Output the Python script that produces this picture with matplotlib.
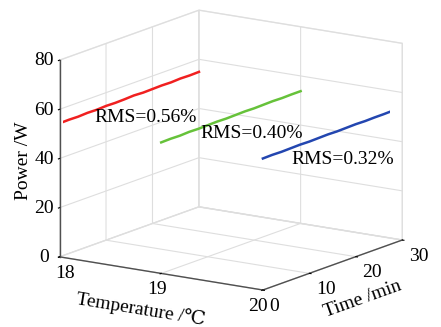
import matplotlib
matplotlib.use("Agg")
import matplotlib.pyplot as plt
import numpy as np

plt.rcParams['font.family'] = ['Liberation Serif', 'DejaVu Serif']

# ── Data ──────────────────────────────────────────────────────────────
time_min = [0, 2, 4, 6, 8, 10, 12, 14, 16, 18, 20, 22, 24, 26, 28, 30]
temps = [18, 19, 20]
power_18 = [54.3, 54.4, 54.3, 54.5, 54.4, 54.6, 54.5, 54.6, 54.8, 54.6,
            54.7, 54.8, 54.7, 54.9, 54.8, 54.9]
power_19 = [53.3, 53.4, 53.3, 53.5, 53.4, 53.5, 53.6, 53.5, 53.6, 53.7,
            53.6, 53.7, 53.8, 53.7, 53.8, 53.8]
power_20 = [53.5, 53.6, 53.5, 53.6, 53.7, 53.6, 53.7, 53.8, 53.7, 53.8,
            53.9, 53.8, 53.9, 53.9, 54.0, 54.0]
rms_labels = ["RMS=0.56%", "RMS=0.40%", "RMS=0.32%"]
colors = ["#f02020", "#66c23a", "#2346b0"]

plt.rcParams['grid.color'] = '#dedede'
plt.rcParams['grid.linewidth'] = 0.8

fig = plt.figure(figsize=(4.41, 3.27), dpi=100)
ax = fig.add_axes([0.0136, 0.0275, 1.0, 1.0], projection='3d')
ax.set_proj_type('ortho')
ax.view_init(elev=14, azim=-56)
ax.set_box_aspect((1.21, 1.23, 1.0), zoom=1.2)

for T, p, c in zip(temps, [power_18, power_19, power_20], colors):
    ax.plot([T] * len(time_min), time_min, p, color=c, linewidth=1.8)

ax.set_xlim(18, 20)
ax.set_ylim(0, 30)
ax.set_zlim(0, 80)
ax.set_xticks([18, 19, 20])
ax.set_yticks([0, 10, 20, 30])
ax.set_zticks([0, 20, 40, 60, 80])
ax.zaxis.set_ticks_position('lower')
ax.zaxis.set_label_position('lower')

fs = 14
ax.tick_params(axis='x', labelsize=fs, pad=-4)
ax.tick_params(axis='y', labelsize=fs, pad=-4)
ax.tick_params(axis='z', labelsize=fs, pad=-2.5)
ax.set_xlabel("Temperature /\u2103", fontsize=fs, labelpad=-3)
ax.set_ylabel("Time /min", fontsize=fs, labelpad=-3)
ax.set_zlabel("Power /W", fontsize=fs, labelpad=-8)

for axis in (ax.xaxis, ax.yaxis, ax.zaxis):
    axis.pane.set_facecolor('white')
    axis.pane.set_edgecolor('#d0d0d0')
    axis.line.set_color('#505050')
    axis.line.set_linewidth(1.0)
    axis._axinfo['tick']['inward_factor'] = 0.1
    axis._axinfo['tick']['outward_factor'] = 0.0

for t in ax.zaxis.get_major_ticks():
    t.label1.set_verticalalignment('center')
for t in ax.yaxis.get_major_ticks():
    t.label1.set_horizontalalignment('left')
ax.xaxis.get_major_ticks()[0].label1.set_horizontalalignment('left')

# RMS annotations
fig.text(0.331, 0.642, rms_labels[0], fontsize=fs, ha='center', va='center')
fig.text(0.571, 0.593, rms_labels[1], fontsize=fs, ha='center', va='center')
fig.text(0.778, 0.511, rms_labels[2], fontsize=fs, ha='center', va='center')

fig.savefig("out.png", dpi=100)
